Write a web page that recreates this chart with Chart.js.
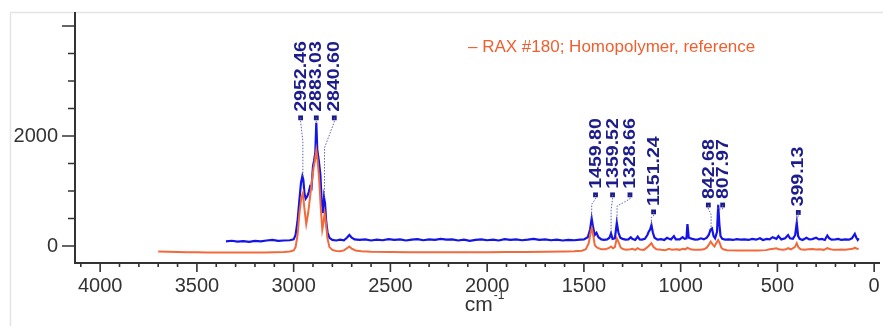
<!DOCTYPE html>
<html><head><meta charset="utf-8">
<script src="https://cdn.jsdelivr.net/npm/chart.js@4/dist/chart.umd.min.js"></script>
<style>html,body{margin:0;padding:0;background:#fff;}#wrap{position:relative;width:883px;height:326px;}</style>
</head><body><div id="wrap"><canvas id="c" width="883" height="326"></canvas></div>
<script>
// ---- data (wavenumber cm-1, intensity) ----
const sampleSpectrum = [
[3350,85],[3320,95],[3290,80],[3260,90],[3230,75],[3200,92],[3170,85],[3140,100],[3110,110],[3080,95],[3050,100],[3020,105],[3000,120],
[2990,200],[2980,450],[2970,850],[2962,1150],[2955,1270],[2950,1200],[2944,950],[2938,860],[2930,900],[2922,980],[2915,1080],[2908,1050],
[2900,1450],[2894,1560],[2888,1700],[2883,2240],[2878,1750],[2870,1550],[2862,1300],[2855,800],[2848,600],[2843,880],[2838,780],[2832,450],
[2825,250],[2815,150],[2800,110],[2780,100],[2760,115],[2740,105],[2725,150],[2712,200],[2700,150],[2685,120],[2660,110],[2630,120],[2600,100],
[2570,115],[2540,105],[2510,125],[2480,110],[2450,120],[2420,100],[2390,115],[2360,125],[2330,105],[2300,120],[2270,110],[2240,130],[2210,115],
[2180,120],[2150,100],[2120,115],[2090,95],[2060,110],[2030,120],[2000,105],[1970,115],[1940,100],[1910,125],[1880,110],[1850,120],[1820,105],
[1790,115],[1760,130],[1730,110],[1700,120],[1670,105],[1640,115],[1610,100],[1580,110],[1550,105],[1520,115],[1500,120],[1480,160],[1468,300],
[1460,500],[1452,330],[1444,200],[1435,240],[1425,160],[1410,120],[1395,110],[1380,120],[1368,150],[1360,230],[1352,130],[1340,140],[1330,420],
[1322,250],[1312,150],[1300,130],[1285,115],[1270,120],[1258,160],[1250,130],[1235,110],[1222,170],[1212,120],[1200,115],[1185,130],[1172,200],
[1165,260],[1158,300],[1151,380],[1144,250],[1135,150],[1120,115],[1100,125],[1085,110],[1070,150],[1060,130],[1050,120],[1035,180],[1025,120],
[1005,120],[990,160],[980,130],[970,140],[965,400],[958,150],[940,130],[925,115],[910,120],[895,140],[880,120],[865,150],[855,200],[845,300],
[838,320],[830,180],[822,140],[812,260],[806,750],[800,400],[794,180],[785,130],[770,115],[750,120],[730,110],[710,125],[690,115],[670,120],
[650,110],[630,130],[610,115],[590,140],[575,110],[555,130],[540,120],[525,160],[505,130],[495,180],[480,120],[460,140],[445,200],[435,140],
[420,130],[408,200],[400,420],[393,180],[385,130],[370,110],[350,150],[335,120],[320,125],[300,150],[285,120],[270,130],[255,110],[242,190],
[232,140],[220,115],[200,120],[185,130],[170,110],[150,120],[130,115],[115,140],[100,220],[92,150],[85,110],[80,140]
];
const referenceSpectrum = [
[3700,-100],[3650,-105],[3600,-110],[3550,-112],[3500,-115],[3450,-117],[3400,-118],[3350,-118],[3300,-120],[3250,-120],[3200,-118],[3150,-117],
[3100,-115],[3050,-110],[3020,-100],[3000,-80],[2990,-20],[2980,200],[2970,600],[2960,880],[2952,960],[2945,700],[2935,400],[2925,600],[2915,900],
[2905,1200],[2897,1420],[2890,1550],[2883,1740],[2876,1550],[2868,1200],[2860,700],[2852,300],[2846,420],[2840,600],[2834,450],[2826,150],
[2815,-20],[2800,-70],[2780,-90],[2760,-95],[2740,-80],[2725,-40],[2712,-10],[2700,-50],[2680,-80],[2650,-95],[2600,-105],[2500,-110],[2400,-112],
[2300,-115],[2200,-115],[2100,-113],[2000,-112],[1900,-110],[1800,-108],[1700,-105],[1600,-100],[1550,-95],[1510,-85],[1490,-60],[1475,50],
[1465,250],[1459,320],[1452,200],[1444,20],[1435,-20],[1425,-40],[1410,-60],[1390,-60],[1372,-40],[1360,-10],[1350,-40],[1340,-20],[1330,140],
[1320,60],[1310,-30],[1295,-60],[1280,-70],[1260,-60],[1250,-50],[1235,-70],[1222,-40],[1210,-65],[1190,-70],[1175,-30],[1165,0],[1151,50],
[1140,-20],[1125,-60],[1100,-70],[1080,-75],[1060,-50],[1045,-70],[1020,-60],[1005,-70],[990,-50],[975,-60],[965,-30],[950,-60],[930,-70],
[900,-70],[880,-60],[865,-30],[855,20],[845,80],[835,30],[825,-10],[815,60],[806,110],[798,50],[790,-30],[780,-60],[760,-75],[700,-80],[650,-80],
[600,-80],[560,-75],[540,-60],[520,-50],[505,-40],[495,-60],[470,-70],[455,-60],[445,-40],[430,-60],[410,-20],[400,50],[392,-20],[380,-60],
[360,-70],[340,-60],[320,-55],[300,-65],[280,-60],[260,-70],[242,-40],[230,-55],[210,-70],[190,-70],[170,-65],[150,-70],[130,-60],[110,-50],
[100,-30],[92,-45],[80,-55]
];
const peakLabels    = ['2952.46','2883.03','2840.60','1459.80','1359.52','1328.66','1151.24','842.68','807.97','399.13'];
const peakPositions = [2952.46, 2883.03, 2840.60, 1459.80, 1359.52, 1328.66, 1151.24, 842.68, 807.97, 399.13];
const peakHeights   = [1270, 2240, 880, 500, 230, 420, 380, 320, 750, 420];
const markerX       = [2964, 2883, 2790, 1440, 1352, 1262, 1140, 857, 783, 392];
const markerY       = [2330, 2330, 2330, 930, 930, 930, 620, 745, 745, 610];
const legendLabel   = '– RAX #180; Homopolymer, reference';
const xTickLabels   = ['4000','3500','3000','2500','2000','1500','1000','500','0'];
const yTickLabels   = ['0','2000'];
const xTitle = 'cm', xTitleSup = '-1';

const FONT = '"Liberation Sans", Arial, sans-serif';

function stepValues(from, to, step) { const a = []; for (let v = from; v <= to; v += step) a.push(v); return a; }

const decor = {
  id: 'decor',
  beforeDraw(chart) {
    const ctx = chart.ctx;
    ctx.save();
    ctx.fillStyle = '#fff'; ctx.fillRect(0, 0, chart.width, chart.height);
    ctx.strokeStyle = '#e4e4e4'; ctx.lineWidth = 1.5;
    ctx.beginPath();
    ctx.moveTo(10, 12.5); ctx.lineTo(chart.width, 12.5);
    ctx.moveTo(10.5, 12.5); ctx.lineTo(10.5, chart.height);
    ctx.stroke();
    ctx.restore();
  },
  afterDraw(chart) {
    const {ctx, chartArea, scales: {x, y}} = chart;
    ctx.save();
    ctx.strokeStyle = '#333'; ctx.lineWidth = 1.6;
    ctx.beginPath();
    x.ticks.forEach(t => {
      const v = Math.round(t.value);
      const px = x.getPixelForValue(v);
      const len = (v % 500 === 0) ? 9 : 4;
      ctx.moveTo(px, chartArea.bottom); ctx.lineTo(px, chartArea.bottom + len);
    });
    y.ticks.forEach(t => {
      const v = Math.round(t.value);
      const py = y.getPixelForValue(v);
      const len = (v % 2000 === 0) ? 13 : 7;
      ctx.moveTo(chartArea.left, py); ctx.lineTo(chartArea.left - len, py);
    });
    ctx.stroke();

    // x-axis title
    ctx.fillStyle = '#333';
    ctx.textBaseline = 'alphabetic';
    ctx.font = '21px ' + FONT;
    const w1 = ctx.measureText(xTitle).width;
    ctx.font = '12px ' + FONT;
    const w2 = ctx.measureText(xTitleSup).width;
    const cx = 484, base = 311;
    const sx = cx - (w1 + w2) / 2;
    ctx.font = '21px ' + FONT; ctx.textAlign = 'left';
    ctx.fillText(xTitle, sx, base);
    ctx.font = '12px ' + FONT;
    ctx.fillText(xTitleSup, sx + w1 + 1, base - 12);

    // legend
    ctx.font = '17px ' + FONT;
    ctx.fillStyle = '#ef5f2f';
    ctx.textBaseline = 'middle';
    ctx.fillText(legendLabel, 468, 47);
    ctx.restore();
  }
};

const peakLabelPlugin = {
  id: 'peakLabels',
  afterDatasetsDraw(chart) {
    const {ctx, scales: {x, y}} = chart;
    ctx.save();
    ctx.strokeStyle = '#6464aa'; ctx.lineWidth = 1; ctx.setLineDash([1.5, 1.5]);
    peakLabels.forEach((lab, i) => {
      const mx = x.getPixelForValue(markerX[i]), my = y.getPixelForValue(markerY[i]);
      const px = x.getPixelForValue(peakPositions[i]), py = y.getPixelForValue(peakHeights[i]);
      const elbow = my + Math.max(4, Math.min(30, (py - my) * 0.4));
      ctx.beginPath();
      ctx.moveTo(mx, my); ctx.lineTo(mx, my + 4); ctx.lineTo(px, elbow); ctx.lineTo(px, py);
      ctx.stroke();
    });
    ctx.setLineDash([]);
    ctx.fillStyle = '#1c1c8c';
    ctx.font = 'bold 17px ' + FONT;
    ctx.textAlign = 'left'; ctx.textBaseline = 'middle';
    peakLabels.forEach((lab, i) => {
      const mx = x.getPixelForValue(markerX[i]), my = y.getPixelForValue(markerY[i]);
      ctx.save();
      ctx.translate(mx + 0.5, my - 6);
      ctx.rotate(-Math.PI / 2);
      ctx.scale(1.15, 1);
      ctx.fillText(lab, 0, 0);
      ctx.restore();
    });
    ctx.restore();
  }
};

new Chart(document.getElementById('c'), {
  type: 'line',
  data: {
    datasets: [
      { label: 'reference', data: referenceSpectrum.map(p => ({x: p[0], y: p[1]})),
        borderColor: '#f26a3c', borderWidth: 2, pointRadius: 0, tension: 0, fill: false },
      { label: 'markers', data: markerX.map((v, i) => ({x: v, y: markerY[i]})),
        showLine: false, pointStyle: 'rect', pointRadius: 3.4, backgroundColor: '#1c1c8c', borderColor: '#1c1c8c', borderWidth: 0 },
      { label: 'sample', data: sampleSpectrum.map(p => ({x: p[0], y: p[1]})),
        borderColor: '#1414e6', borderWidth: 2.2, pointRadius: 0, tension: 0, fill: false }
    ]
  },
  options: {
    responsive: false, animation: false, devicePixelRatio: 1,
    layout: { padding: { top: 13, right: 3, left: 0, bottom: 0 } },
    plugins: { legend: { display: false }, tooltip: { enabled: false } },
    scales: {
      x: {
        type: 'linear', reverse: true, min: -25, max: 4130,
        afterBuildTicks: s => { s.ticks = stepValues(0, 4100, 100).map(v => ({value: v})); },
        afterFit: s => { s.height = 63; s.paddingLeft = 0; s.paddingRight = 0; },
        grid: { display: false, drawTicks: false, tickLength: 0 },
        border: { display: true, color: '#333', width: 2 },
        ticks: {
          autoSkip: false, maxRotation: 0, minRotation: 0,
          padding: 11, color: '#333', font: { family: FONT, size: 20 },
          callback: v => { const s = String(Math.round(v)); return xTickLabels.includes(s) ? s : ''; }
        }
      },
      y: {
        type: 'linear', min: -309, max: 4236,
        afterBuildTicks: s => { s.ticks = stepValues(0, 4000, 500).map(v => ({value: v})); },
        afterFit: s => { s.width = 75; s.paddingTop = 0; s.paddingBottom = 0; },
        grid: { display: false, drawTicks: false, tickLength: 0 },
        border: { display: true, color: '#333', width: 2 },
        ticks: {
          autoSkip: false,
          padding: 17, color: '#333', font: { family: FONT, size: 20 },
          callback: v => { const s = String(Math.round(v)); return yTickLabels.includes(s) ? s : ''; }
        }
      }
    }
  },
  plugins: [decor, peakLabelPlugin]
});
</script>
</body></html>
